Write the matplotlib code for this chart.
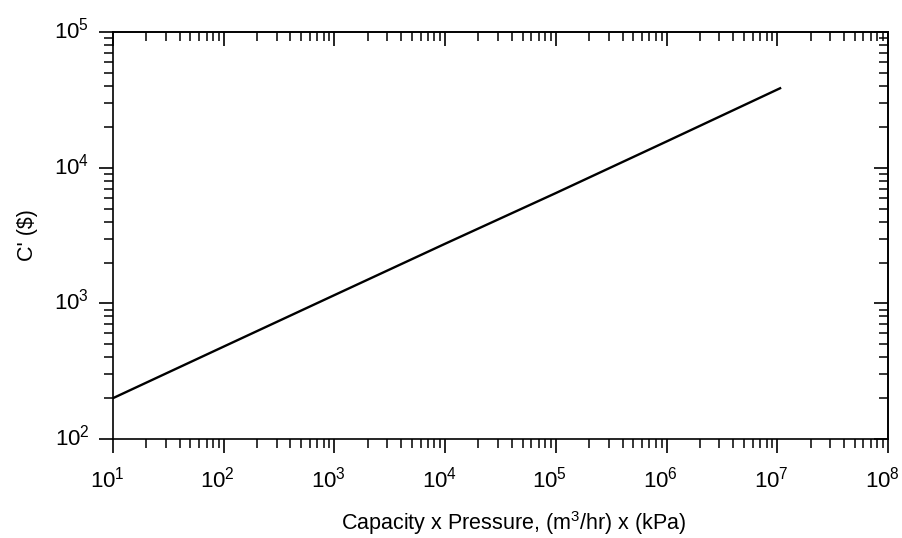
import matplotlib
matplotlib.use("Agg")
import matplotlib.pyplot as plt
import matplotlib.transforms as mtransforms
from matplotlib.ticker import LogLocator, NullFormatter, FixedLocator

plt.rcParams['font.family'] = ['Liberation Sans', 'DejaVu Sans']
plt.rcParams['mathtext.fontset'] = 'custom'
plt.rcParams['mathtext.rm'] = 'Liberation Sans'
plt.rcParams['mathtext.it'] = 'Liberation Sans:italic'
plt.rcParams['mathtext.bf'] = 'Liberation Sans:bold'

# Data
capacity_pressure = [10, 1e2, 1e3, 1e4, 1e5, 1e6, 1.06e7]
cost = [200, 480, 1150, 2750, 6500, 15600, 38500]

x_ticks = [1e1, 1e2, 1e3, 1e4, 1e5, 1e6, 1e7, 1e8]
y_ticks = [1e2, 1e3, 1e4, 1e5]

x_label = "Capacity x Pressure, (m$^3$/hr) x (kPa)"
y_label = "C' ($)"

fig = plt.figure(figsize=(9.03, 5.38), dpi=100)
ax = fig.add_axes([0.1251, 0.184, 0.8583, 0.7565])

ax.plot(capacity_pressure, cost, color='black', lw=1.7)
ax.set_xscale('log')
ax.set_yscale('log')
ax.set_xlim(1e1, 1e8)
ax.set_ylim(1e2, 1e5)
ax.xaxis.set_major_locator(FixedLocator(x_ticks))
ax.yaxis.set_major_locator(FixedLocator(y_ticks))

for sp in ax.spines.values():
    sp.set_linewidth(1.2)

ax.xaxis.set_minor_locator(LogLocator(base=10, subs=range(2, 10), numticks=20))
ax.yaxis.set_minor_locator(LogLocator(base=10, subs=range(2, 10), numticks=20))
ax.xaxis.set_minor_formatter(NullFormatter())
ax.yaxis.set_minor_formatter(NullFormatter())

ax.tick_params(which='major', direction='out', length=10, width=1.2,
               labelsize=16, pad=7, colors='black')
ax.tick_params(axis='x', which='major', pad=10)
ax.tick_params(which='minor', direction='out', length=6.5, width=1.1)

# top and right ticks pointing inwards
secx = ax.secondary_xaxis('top')
secy = ax.secondary_yaxis('right')
secx.xaxis.set_major_locator(FixedLocator(x_ticks))
secy.yaxis.set_major_locator(FixedLocator(y_ticks))
for sec, axis in ((secx, secx.xaxis), (secy, secy.yaxis)):
    axis.set_minor_locator(LogLocator(base=10, subs=range(2, 10), numticks=20))
    axis.set_minor_formatter(NullFormatter())
    axis.set_major_formatter(NullFormatter())
    sec.tick_params(which='major', direction='in', length=10, width=1.2)
    sec.tick_params(which='minor', direction='in', length=6.5, width=1.1)
    for sp in sec.spines.values():
        sp.set_linewidth(1.2)

# small offsets of tick labels as in the reference
xoff = mtransforms.ScaledTranslation(-6 / 100, 0, fig.dpi_scale_trans)
for lab in ax.get_xticklabels():
    lab.set_transform(lab.get_transform() + xoff)
yoff = mtransforms.ScaledTranslation(0, 4 / 100, fig.dpi_scale_trans)
for lab in ax.get_yticklabels():
    lab.set_transform(lab.get_transform() + yoff)

ax.set_xlabel(x_label, fontsize=15.5)
ax.xaxis.set_label_coords(0.517, -0.172)
ax.set_ylabel(y_label, fontsize=15.5, labelpad=12)

fig.savefig("out.png", dpi=100)
